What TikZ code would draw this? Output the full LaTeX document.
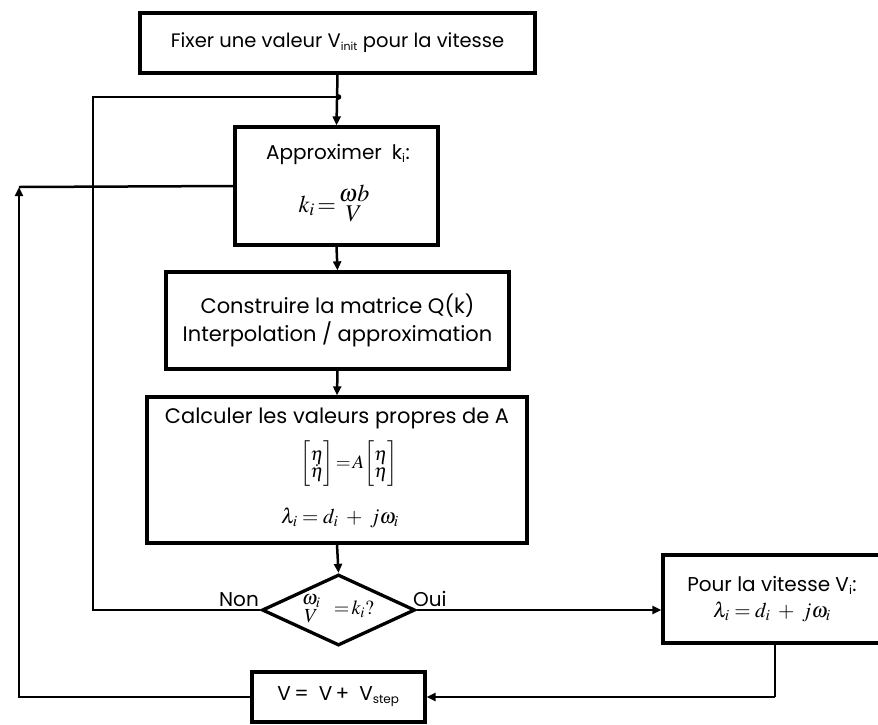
\documentclass[tikz,border=0pt]{standalone}
\usepackage{amsmath}
\usepackage{mathptmx}
\usepackage{fontspec}
\setmainfont{Poppins}
\usetikzlibrary{arrows.meta,shapes.geometric}
% stacked pair without a fraction bar
\newcommand{\stackpair}[3]{\begin{array}{@{}c@{}}#1\\[#3]#2\end{array}}
\begin{document}
\begin{tikzpicture}[x=1pt,y=-1pt,
    box/.style={draw,line width=3.3pt,inner sep=0pt,align=center,font=\fontsize{20}{24}\selectfont},
    link/.style={line width=2.5pt},
    arr/.style={link,-{Triangle[length=9pt,width=8pt]}},
    lbl/.style={font=\fontsize{20}{24}\selectfont,inner sep=0pt}]
  \clip (0,0) rectangle (878,724);

  % process boxes
  \node[box,minimum width=395,minimum height=60,font=\fontsize{19.5}{24}\selectfont] (init) at (337.5,43)
    {Fixer une valeur V\textsubscript{\fontsize{11}{12}\selectfont init} pour la vitesse};
  \node[box,minimum width=203,minimum height=118] (approx) at (336.5,186) {};
  \node[lbl] (approxT) at (338,154) {Approximer\enspace k\textsubscript{\fontsize{12}{12}\selectfont i}:};
  \node[lbl,font=\fontsize{24}{28}\selectfont] (approxF) at (334,206)
    {$k_i\!=\!\stackpair{\omega b}{V}{-8pt}$};
  \node[box,minimum width=343,minimum height=97,font=\fontsize{21}{25}\selectfont] (constr) at (337.5,320.5)
    {Construire la matrice Q(k)\\[3pt] Interpolation / approximation};
  \node[box,minimum width=380,minimum height=146] (calc) at (337,470) {};
  \node[lbl,font=\fontsize{21}{25}\selectfont] (calcT) at (337,418) {Calculer les valeurs propres de A};
  \node[lbl,font=\fontsize{19}{23}\selectfont] (calcM) at (349,464)
    {$\left[\stackpair{\eta}{\dot\eta}{-6pt}\right]\!=\!A\!\left[\stackpair{\eta}{\eta}{-6pt}\right]$};
  \node[lbl,font=\fontsize{21}{25}\selectfont] (calcL) at (340,518) {$\lambda_i=d_i\;+\;j\omega_i$};

  % decision
  \node[draw,line width=3.3pt,shape=diamond,inner sep=0pt,minimum width=153,minimum height=71] (test) at (338.5,610) {};
  \node[lbl] (testT) at (338,609) {$\stackpair{\omega_i}{V}{-6pt}\;\;=\!k_i?$};
  \node[lbl,anchor=south east] (non) at (259,607) {Non};
  \node[lbl,anchor=south west] (oui) at (413,607) {Oui};

  % result and increment
  \node[box,minimum width=218,minimum height=88] (pour) at (772,599)
    {Pour la vitesse V\textsubscript{\fontsize{12}{12}\selectfont i}:\\[2pt] \fontsize{21}{25}\selectfont$\lambda_i=d_i\;+\;j\omega_i$};
  \node[box,minimum width=173,minimum height=50] (incr) at (338.5,697)
    {V\,=\enspace V\,+\enspace V\textsubscript{\fontsize{12}{12}\selectfont step}};

  % routing points
  \coordinate (junc) at (338.5,97);
  \coordinate (nonc) at (93,610);
  \coordinate (backc) at (19,187);
  \coordinate (pourc) at (775,697);

  % connectors
  \draw[arr] (init.south) -- (approx.north);
  \draw[arr] (approx.south) -- (constr.north);
  \draw[arr] (constr.south) -- (calc.north);
  \draw[arr] (calc.south) -- (test.north);
  \draw[link] (test.west) -- (nonc) |- (junc);
  \fill (junc) circle (2.8pt);
  \draw[arr] (test.east) -- (test.east -| pour.west);
  \draw[line width=1.5pt] (pour.south -| pourc) -- (pourc);
  \draw[arr] (pourc) -- (incr.east);
  \draw[arr] (incr.west) -| (backc);
  \draw[link] (backc) -- (approx.west);
\end{tikzpicture}
\end{document}
